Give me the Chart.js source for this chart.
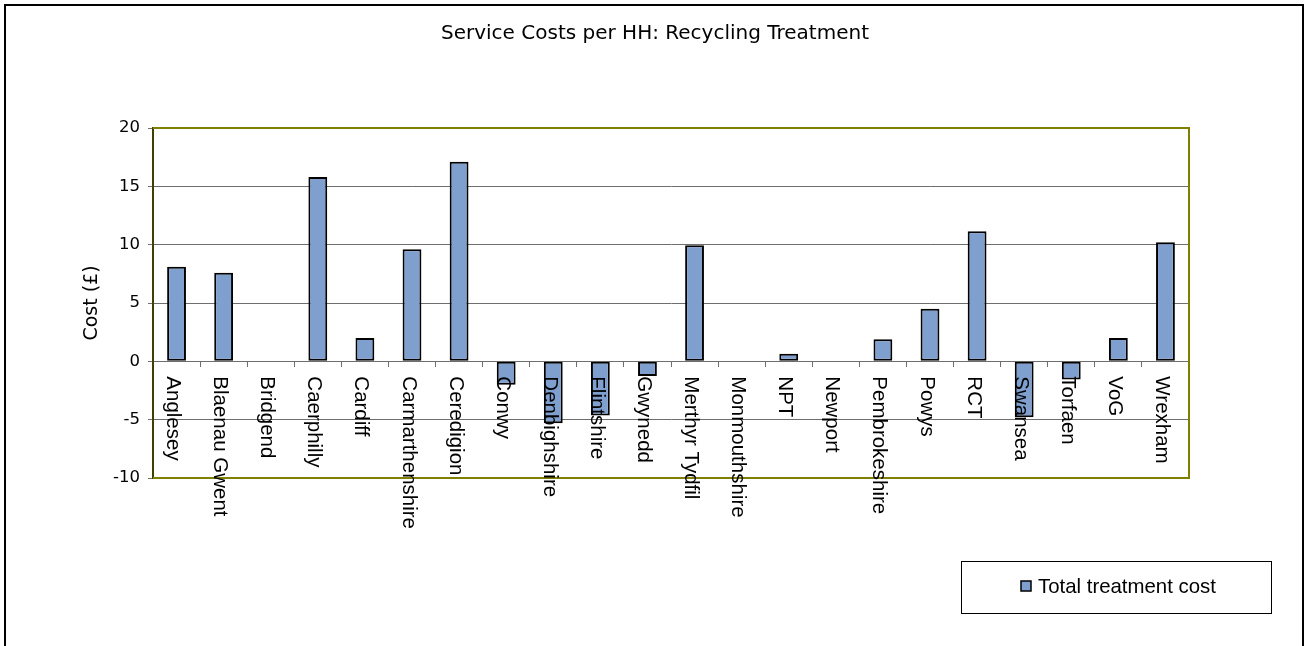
<!DOCTYPE html>
<html>
<head>
<meta charset="utf-8">
<title>Service Costs per HH: Recycling Treatment</title>
<script src="https://cdn.jsdelivr.net/npm/chart.js@4/dist/chart.umd.min.js"></script>
<style>
  html, body { margin: 0; padding: 0; background: #fff; overflow: hidden; }
  #wrap { position: relative; width: 1305px; height: 646px; }
  #frame { position: absolute; left: 4px; top: 4px; width: 1300px; height: 700px;
           border: 2px solid #000; box-sizing: border-box; pointer-events: none; }
  #chart { position: absolute; left: 0; top: 0; }
</style>
</head>
<body>
<div id="wrap">
  <canvas id="chart" width="1305" height="646"></canvas>
  <div id="frame"></div>
</div>
<script>
const authorities = ['Anglesey', 'Blaenau Gwent', 'Bridgend', 'Caerphilly', 'Cardiff', 'Carmarthenshire',
  'Ceredigion', 'Conwy', 'Denbighshire', 'Flintshire', 'Gwynedd', 'Merthyr Tydfil', 'Monmouthshire',
  'NPT', 'Newport', 'Pembrokeshire', 'Powys', 'RCT', 'Swansea', 'Torfaen', 'VoG', 'Wrexham'];

// £ per household, blanks where no figure was returned
const treatmentCost = [8.1, 7.6, null, 15.8, 2.0, 9.6, 17.1, -2.0, -5.3, -4.65, -1.25, 9.95, null,
  0.65, null, 1.9, 4.5, 11.15, -4.8, -1.55, 2.0, 10.2];

const costMin = -10;
const costMax = 20;
const costStep = 5;

const chartTitle = 'Service Costs per HH: Recycling Treatment';
const axisTitle = 'Cost (£)';
const seriesName = 'Total treatment cost';

const barBlue = '#7f9fcf';
const olive = '#808000';
const gridGrey = '#6e6e6e';

// Excel-style extras: olive plot frame, labels hanging off the zero line, boxed legend
const excelLook = {
  id: 'excelLook',
  beforeDatasetsDraw(chart) {
    const { ctx, chartArea: a } = chart;
    ctx.save();
    ctx.strokeStyle = olive;
    ctx.lineWidth = 2;
    ctx.beginPath();
    ctx.moveTo(a.left, a.top);
    ctx.lineTo(a.right, a.top);
    ctx.lineTo(a.right, a.bottom);
    ctx.lineTo(a.left, a.bottom);
    ctx.stroke();
    ctx.restore();
  },
  afterDatasetsDraw(chart) {
    const { ctx, chartArea: a } = chart;
    const xs = chart.scales.x;
    const zeroY = chart.scales.y.getPixelForValue(0);
    ctx.save();
    ctx.fillStyle = '#000';
    ctx.font = '20.5px "Liberation Sans", Arial, sans-serif';
    ctx.textAlign = 'left';
    ctx.textBaseline = 'alphabetic';
    authorities.forEach((name, i) => {
      ctx.save();
      ctx.translate(xs.getPixelForValue(i), zeroY + 15);
      ctx.rotate(Math.PI / 2);
      ctx.fillText(name, 0, 9.5);
      ctx.restore();
    });

    // chart title, centred on the page
    ctx.font = '20px "DejaVu Sans", sans-serif';
    ctx.textAlign = 'center';
    ctx.textBaseline = 'middle';
    ctx.fillText(chartTitle, 655, 34);

    // y axis title
    ctx.font = '19px "DejaVu Sans", sans-serif';
    ctx.translate(92, (a.top + a.bottom) / 2);
    ctx.rotate(-Math.PI / 2);
    ctx.fillText(axisTitle, 0, 0);
    ctx.restore();
  },
  afterDraw(chart) {
    const { ctx } = chart;
    ctx.save();
    ctx.strokeStyle = '#000';
    ctx.lineWidth = 1;
    ctx.strokeRect(961.5, 561.5, 310, 52);
    ctx.fillStyle = barBlue;
    ctx.fillRect(1021, 581, 10, 10);
    ctx.lineWidth = 1.5;
    ctx.strokeRect(1021, 581, 10, 10);
    ctx.fillStyle = '#000';
    ctx.font = '20.4px "Liberation Sans", Arial, sans-serif';
    ctx.textBaseline = 'middle';
    ctx.textAlign = 'left';
    ctx.fillText(chart.data.datasets[0].label, 1038, 587);
    ctx.restore();
  }
};

new Chart(document.getElementById('chart'), {
  type: 'bar',
  data: {
    labels: authorities,
    datasets: [{
      label: seriesName,
      data: treatmentCost,
      backgroundColor: barBlue,
      borderColor: '#000',
      borderWidth: 2,
      borderSkipped: false,
      barPercentage: 0.4,
      categoryPercentage: 1
    }]
  },
  options: {
    responsive: false,
    animation: false,
    layout: { padding: { left: 0, right: 116, top: 128, bottom: 168 } },
    plugins: {
      legend: { display: false },
      tooltip: { enabled: false },
      title: { display: false }
    },
    scales: {
      x: {
        type: 'category',
        position: { y: 0 },
        offset: true,
        grid: { offset: true, drawOnChartArea: false, tickLength: 5, color: gridGrey },
        border: { display: true, color: gridGrey, width: 1 },
        ticks: { display: false }
      },
      y: {
        min: costMin,
        max: costMax,
        ticks: {
          stepSize: costStep,
          padding: 8,
          color: '#000',
          font: { family: 'DejaVu Sans', size: 16.5 }
        },
        grid: { color: gridGrey, tickLength: 5 },
        border: { color: '#404000', width: 2 },
        afterFit(scale) { scale.width = 153; }
      }
    }
  },
  plugins: [excelLook]
});
</script>
</body>
</html>
